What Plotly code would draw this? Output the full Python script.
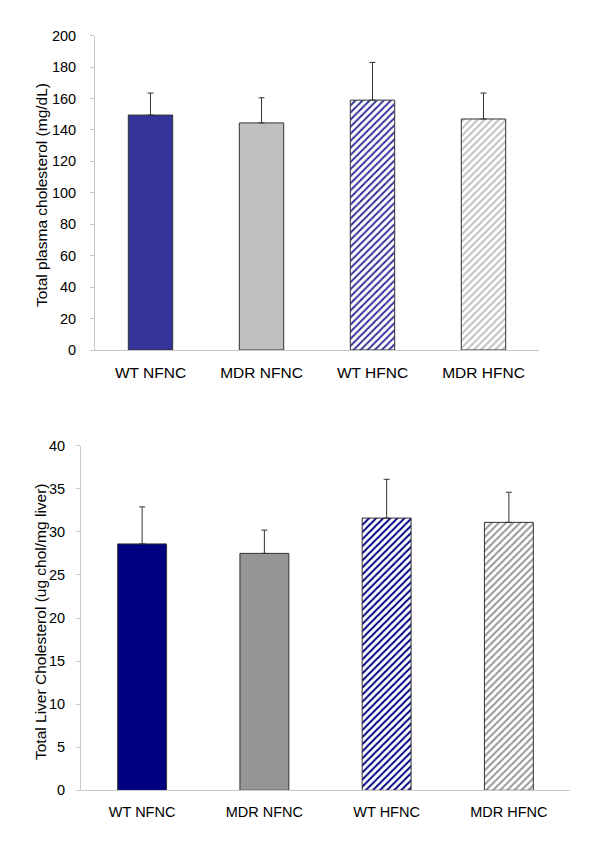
import plotly.graph_objects as go

categories = ["WT NFNC", "MDR NFNC", "WT HFNC", "MDR HFNC"]

plasma_values = [149.5, 144.5, 159.0, 147.0]
plasma_err = [14.0, 16.0, 24.0, 16.5]

liver_values = [28.6, 27.5, 31.6, 31.1]
liver_err = [4.3, 2.7, 4.5, 3.5]

top_colors = ["#333399", "#C0C0C0", "#333399", "#C0C0C0"]
bot_colors = ["#000080", "#969696", "#000080", "#969696"]
hatched = [False, False, True, True]

plasma_title = "Total plasma cholesterol (mg/dL)"
liver_title = "Total Liver Cholesterol (ug chol/mg liver)"

FAM = "Liberation Sans, Arial, sans-serif"
title_font = dict(family=FAM, size=15.5, color="black")
xt_font_top = dict(family=FAM, size=15.5, color="black")
xt_font_bot = dict(family=FAM, size=14.5, color="black")
yt_font = dict(family=FAM, size=14.5, color="black")

# page body adds an 8px offset; figure fits the remaining window
OFF = 8
W, H = 600 - OFF, 863 - OFF


def px(v):
    return (v - OFF) / W


def py(v):
    return (H - (v - OFF)) / H


fig = go.Figure()


def add_bars(values, errs, colors, xa, ya):
    for i, cat in enumerate(categories):
        if hatched[i]:
            marker = dict(
                color="white",
                line=dict(color="#333333", width=1),
                pattern=dict(shape="/", fgcolor=colors[i], bgcolor="white",
                             size=5, solidity=0.4, fillmode="replace"),
            )
        else:
            marker = dict(color=colors[i], line=dict(color="#333333", width=1))
        fig.add_trace(go.Bar(
            x=[cat], y=[values[i]], marker=marker, width=0.4,
            error_y=dict(type="data", array=[errs[i]], arrayminus=[0],
                         symmetric=False, color="#333333", thickness=1, width=3),
            xaxis=xa, yaxis=ya, showlegend=False,
        ))


add_bars(plasma_values, plasma_err, top_colors, "x", "y")
add_bars(liver_values, liver_err, bot_colors, "x2", "y2")

axis_common = dict(showgrid=False, zeroline=False, showline=True, automargin=False,
                   linecolor="#c8c8c8", linewidth=1)

fig.update_layout(
    width=W, height=H,
    margin=dict(l=0, r=0, t=0, b=0),
    paper_bgcolor="white", plot_bgcolor="white",
    font=title_font,
    bargap=0.6,
    xaxis=dict(domain=[px(95), px(539)], anchor="y", ticks="", ticklabelstandoff=8,
               tickfont=xt_font_top,
               categoryorder="array", categoryarray=categories, **axis_common),
    yaxis=dict(domain=[py(350), py(35.7)], anchor="x",
               range=[0, 200], dtick=20, ticks="outside", ticklen=4,
               tickcolor="#c8c8c8", ticklabelstandoff=11, tickfont=yt_font,
               **axis_common),
    xaxis2=dict(domain=[px(81), px(570)], anchor="y2", ticks="", ticklabelstandoff=8,
                tickfont=xt_font_bot,
                categoryorder="array", categoryarray=categories, **axis_common),
    yaxis2=dict(domain=[py(790.3), py(445.7)], anchor="x2",
                range=[0, 40], dtick=5, ticks="outside", ticklen=4,
                tickcolor="#c8c8c8", ticklabelstandoff=8, tickfont=yt_font,
                **axis_common),
    annotations=[
        dict(text=plasma_title, textangle=-90, xref="paper", yref="paper",
             x=px(42), y=py(195), xanchor="center", yanchor="middle",
             showarrow=False, font=title_font),
        dict(text=liver_title, textangle=-90, xref="paper", yref="paper",
             x=px(40), y=py(622), xanchor="center", yanchor="middle",
             showarrow=False, font=title_font),
    ],
)

fig.write_html("out.html")
